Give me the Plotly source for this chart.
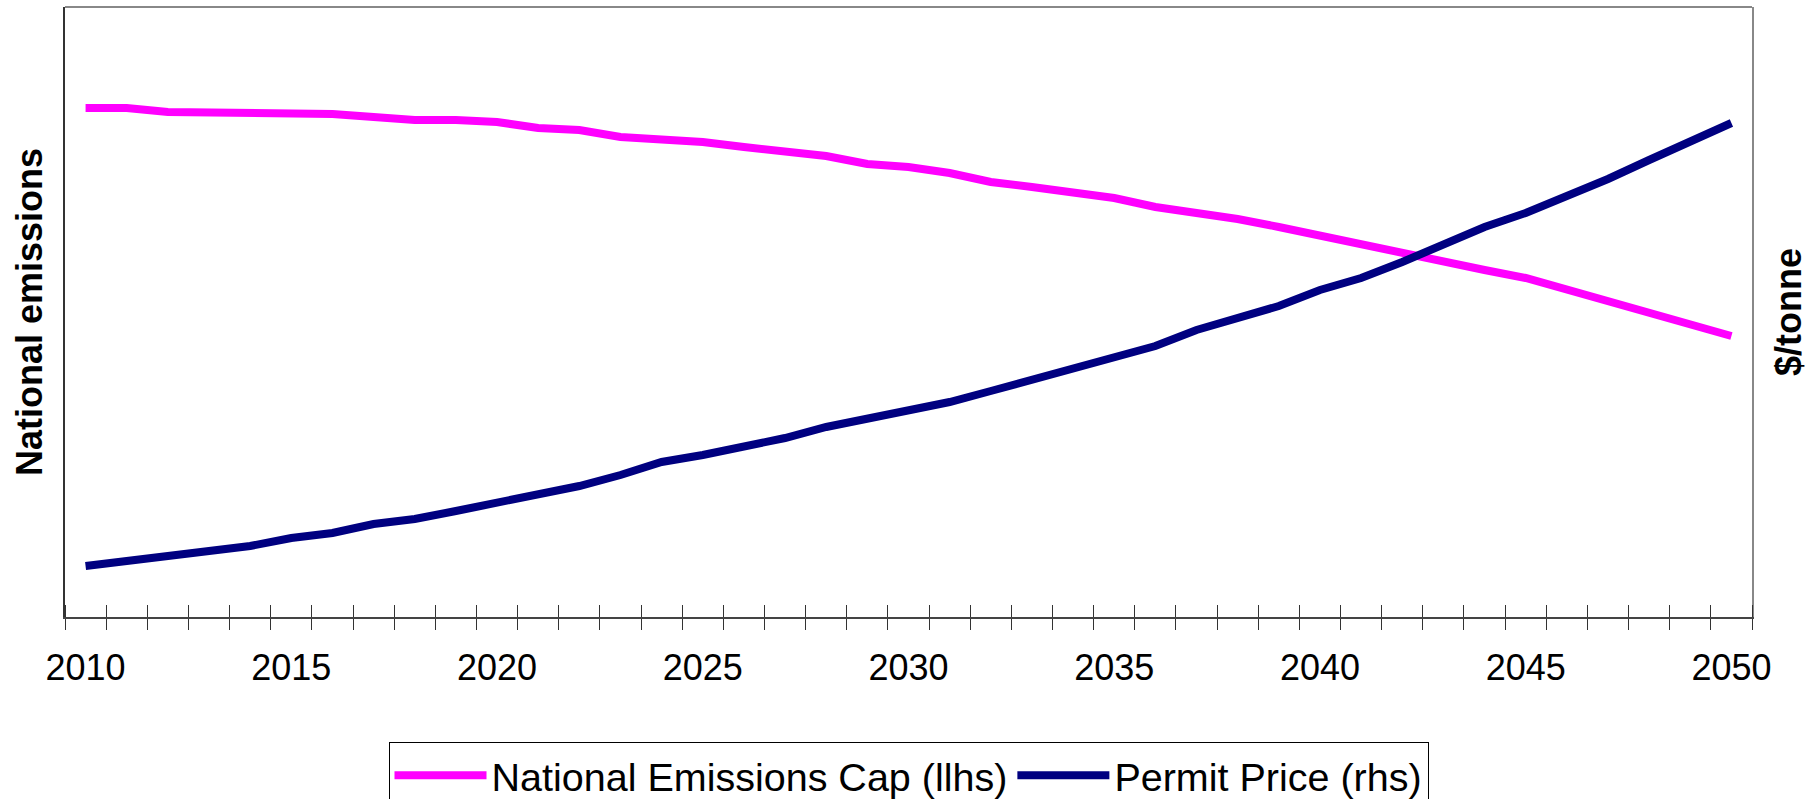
import plotly.graph_objects as go

years = list(range(2010, 2051))
tick_years = list(range(2010, 2051, 5))
tick_labels = [str(y) for y in tick_years]

# Values (arbitrary units, axes carry no tick labels)
emissions_cap = [509, 509, 505, 505, 505, 503, 503, 500, 497, 497,
                 495, 489, 487, 480, 478, 475, 470, 466, 461, 453,
                 450, 444, 435, 430, 425, 419, 410, 405, 398, 390,
                 381, 373, 364, 356, 347, 339, 327, 316, 304, 293,
                 281]
permit_price = [51, 56, 60, 65, 71, 79, 84, 93, 98, 106,
                114, 123, 131, 142, 155, 162, 170, 179, 190, 198,
                206, 215, 226, 237, 248, 260, 271, 287, 298, 311,
                327, 339, 355, 373, 390, 404, 420, 438, 457, 475,
                494]

boundaries = [y - 0.5 for y in years] + [years[-1] + 0.5]
xrange_ = [years[0] - 0.5, years[-1] + 0.5]
FONT = "Liberation Sans, Arial, sans-serif"

fig = go.Figure()
fig.add_trace(go.Scatter(
    x=years, y=emissions_cap, name="National Emissions Cap (llhs)",
    mode="lines", line=dict(color="#FF00FF", width=8),
    xaxis="x", yaxis="y"))
fig.add_trace(go.Scatter(
    x=years, y=permit_price, name="Permit Price (rhs)",
    mode="lines", line=dict(color="#000080", width=8),
    xaxis="x2", yaxis="y2"))

fig.update_layout(
    template="none",
    width=1815, height=799,
    margin=dict(l=65, r=63, t=7, b=182, autoexpand=False),
    paper_bgcolor="white", plot_bgcolor="white",
    font=dict(family=FONT, color="black"),
    xaxis=dict(
        range=xrange_, tickmode="array", tickvals=tick_years, ticktext=tick_labels,
        ticks="", ticklabelstandoff=18, automargin=False,
        tickfont=dict(size=36, family=FONT, color="black"),
        showgrid=False, zeroline=False,
        showline=True, linecolor="#444444", linewidth=2,
        minor=dict(tickmode="array", tickvals=boundaries, ticks="outside",
                   ticklen=11, tickwidth=1, tickcolor="#333333", showgrid=False),
    ),
    xaxis2=dict(
        range=xrange_, overlaying="x", anchor="y", side="bottom", automargin=False,
        tickmode="array", tickvals=[], showticklabels=False, ticks="",
        showgrid=False, zeroline=False, showline=False,
        minor=dict(tickmode="array", tickvals=boundaries, ticks="inside",
                   ticklen=12, tickwidth=1, tickcolor="#333333", showgrid=False),
    ),
    yaxis=dict(
        range=[0, 610], showticklabels=False, ticks="", showgrid=False, automargin=False,
        zeroline=False, showline=True, linecolor="#333333", linewidth=1.5,
    ),
    yaxis2=dict(
        range=[0, 610], overlaying="y", side="right", anchor="x", automargin=False,
        showticklabels=False, ticks="", showgrid=False, zeroline=False,
        showline=True, linecolor="#888888", linewidth=2,
    ),
    legend=dict(
        orientation="h", x=0.5, xanchor="center", y=-0.205, yanchor="top",
        bordercolor="black", borderwidth=1, bgcolor="white",
        font=dict(size=39.5, family=FONT, color="black"),
        itemwidth=92,
    ),
    showlegend=True,
    shapes=[dict(type="line", xref="paper", yref="paper", x0=0, x1=1, y0=1, y1=1,
                 line=dict(color="#888888", width=2), layer="below")],
    annotations=[
        dict(text="<b>National emissions</b>", textangle=-90, xref="paper", yref="paper",
             x=0, y=0.5, xanchor="center", yanchor="middle", xshift=-36, showarrow=False,
             font=dict(size=36, family=FONT, color="black")),
        dict(text="<b>$/tonne</b>", textangle=-90, xref="paper", yref="paper",
             x=1, y=0.5, xanchor="center", yanchor="middle", xshift=36, showarrow=False,
             font=dict(size=36, family=FONT, color="black")),
    ],
)

fig.write_html("out.html")
